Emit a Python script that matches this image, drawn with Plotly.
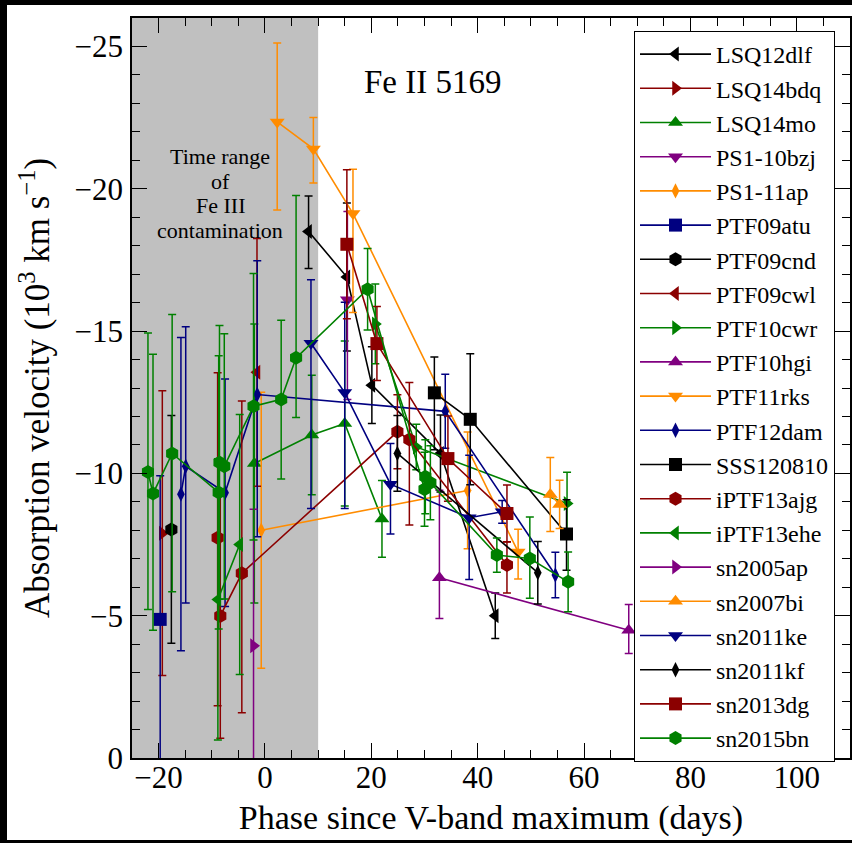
import plotly.graph_objects as go

# ---------------- data (phase in days, velocity in 10^3 km/s) ----------------
names = ["LSQ12dlf", "LSQ14bdq", "LSQ14mo", "PS1-10bzj", "PS1-11ap", "PTF09atu",
         "PTF09cnd", "PTF09cwl", "PTF10cwr", "PTF10hgi", "PTF11rks", "PTF12dam",
         "SSS120810", "iPTF13ajg", "iPTF13ehe", "sn2005ap", "sn2007bi", "sn2011ke",
         "sn2011kf", "sn2013dg", "sn2015bn"]

LSQ12dlf_phase = [8.2, 15.4, 20.1, 33.0, 43.3]
LSQ12dlf_vel = [-18.5, -16.9, -13.1, -10.7, -5.0]
LSQ12dlf_err_up = [1.25, 2.6, 1.35, 1.35, 0.8]
LSQ12dlf_err_dn = [1.3, 2.6, 1.35, 1.35, 0.8]

LSQ14bdq_phase = [-19.3]
LSQ14bdq_vel = [-7.9]
LSQ14bdq_err_up = [5.0]
LSQ14bdq_err_dn = [5.0]

LSQ14mo_phase = [-2.0, 8.8, 15.0, 22.0]
LSQ14mo_vel = [-10.35, -11.35, -11.75, -8.4]
LSQ14mo_err_up = [4.9, 2.1, 2.9, 1.35]
LSQ14mo_err_dn = [4.9, 2.1, 2.9, 1.35]

PS1_10bzj_phase = [15.5]
PS1_10bzj_vel = [-16.1]
PS1_10bzj_err_up = [3.1]
PS1_10bzj_err_dn = [3.5]

PS1_11ap_phase = [-0.7, 38.1]
PS1_11ap_vel = [-8.0, -9.4]
PS1_11ap_err_up = [4.85, 2.05]
PS1_11ap_err_dn = [4.85, 2.05]

PTF09atu_phase = [-19.7]
PTF09atu_vel = [-4.87]
PTF09atu_err_up = [5.05]
PTF09atu_err_dn = [5.05]

PTF09cnd_phase = [-17.6]
PTF09cnd_vel = [-8.03]
PTF09cnd_err_up = [4.0]
PTF09cnd_err_dn = [4.0]

PTF09cwl_phase = [-1.5]
PTF09cwl_vel = [-13.55]
PTF09cwl_err_up = [4.7]
PTF09cwl_err_dn = [4.0]

PTF10cwr_phase = [20.75, 28.45, 56.8]
PTF10cwr_vel = [-15.25, -10.93, -8.94]
PTF10cwr_err_up = [1.4, 0.8, 1.1]
PTF10cwr_err_dn = [1.4, 0.8, 1.1]

PTF10hgi_phase = [32.8, 68.4]
PTF10hgi_vel = [-6.33, -4.49]
PTF10hgi_err_up = [3.08, 0.9]
PTF10hgi_err_dn = [1.43, 0.82]

PTF11rks_phase = [2.3, 9.1, 16.55, 47.6]
PTF11rks_vel = [-22.35, -21.4, -19.13, -7.24]
PTF11rks_err_up = [2.77, 1.1, 1.56, 0.8]
PTF11rks_err_dn = [3.1, 1.2, 3.48, 0.95]

PTF12dam_phase = [-15.8, -14.9, -7.5, -1.45, 33.9, 54.6]
PTF12dam_vel = [-9.27, -10.25, -9.32, -12.77, -12.18, -6.43]
PTF12dam_err_up = [5.5, 4.9, 4.0, 4.7, 1.3, 0.8]
PTF12dam_err_dn = [5.5, 4.8, 4.0, 5.0, 1.3, 0.8]

SSS120810_phase = [31.85, 38.6, 56.7]
SSS120810_vel = [-12.83, -11.9, -7.87]
SSS120810_err_up = [1.26, 2.3, 1.2]
SSS120810_err_dn = [2.0, 2.3, 1.27]

iPTF13ajg_phase = [-8.9, -8.4, -4.35, 24.9, 27.15, 45.5]
iPTF13ajg_vel = [-7.74, -4.99, -6.49, -11.46, -11.19, -6.78]
iPTF13ajg_err_up = [5.8, 4.3, 6.05, 1.3, 2.0, 0.82]
iPTF13ajg_err_dn = [5.9, 4.3, 4.9, 1.3, 3.0, 0.98]

iPTF13ehe_phase = [-8.85, -4.75]
iPTF13ehe_vel = [-5.57, -7.5]
iPTF13ehe_err_up = [4.94, 4.57]
iPTF13ehe_err_dn = [4.94, 4.57]

sn2005ap_phase = [-2.15]
sn2005ap_vel = [-3.94]
sn2005ap_err_up = [4.8]
sn2005ap_err_dn = [4.8]

sn2007bi_phase = [53.65, 55.4]
sn2007bi_vel = [-9.26, -8.91]
sn2007bi_err_up = [1.3, 0.85]
sn2007bi_err_dn = [1.3, 0.85]

sn2011ke_phase = [8.65, 15.0, 23.6, 38.4, 44.6]
sn2011ke_vel = [-14.57, -12.84, -9.62, -8.44, -8.65]
sn2011ke_err_up = [2.23, 3.17, 1.43, 2.2, 0.4]
sn2011ke_err_dn = [5.8, 4.07, 1.75, 2.17, 0.4]

sn2011kf_phase = [24.9, 51.3]
sn2011kf_vel = [-10.7, -6.51]
sn2011kf_err_up = [1.33, 1.1]
sn2011kf_err_dn = [1.33, 1.1]

sn2013dg_phase = [15.4, 21.05, 34.4, 45.5]
sn2013dg_vel = [-18.05, -14.56, -10.52, -8.59]
sn2013dg_err_up = [2.62, 1.3, 1.5, 1.0]
sn2013dg_err_dn = [2.62, 1.3, 1.5, 1.0]

sn2015bn_phase = [-22.0, -21.05, -17.45, -8.7, -8.55, -7.65, -2.15, 3.05, 5.85,
                  19.3, 30.0, 30.15, 31.1, 43.6, 49.8, 57.0]
sn2015bn_vel = [-10.05, -9.29, -10.7, -9.33, -10.38, -10.25, -12.36, -12.6, -14.06,
                -16.47, -9.44, -9.88, -9.67, -7.13, -7.01, -6.19]
sn2015bn_err_up = [4.88, 4.9, 4.88, 4.8, 4.82, 4.66, 4.66, 2.78, 5.7,
                   1.43, 1.3, 1.3, 1.3, 0.6, 1.46, 1.05]
sn2015bn_err_dn = [4.83, 4.8, 4.86, 4.8, 4.8, 4.66, 4.7, 2.8, 2.1,
                   1.43, 1.3, 1.3, 1.3, 0.6, 1.4, 1.05]

contamination_range = [-25, 10]   # phase range shaded grey
contamination_label = ["Time range", "of", "Fe III", "contamination"]

# ---------------- styles ----------------
STYLE = {
    "LSQ12dlf": ("black", "triangle-left"),
    "LSQ14bdq": ("#8b0000", "triangle-right"),
    "LSQ14mo": ("#008000", "triangle-up"),
    "PS1-10bzj": ("#800080", "triangle-down"),
    "PS1-11ap": ("#ff8c00", "diamond-tall"),
    "PTF09atu": ("#000080", "square"),
    "PTF09cnd": ("black", "hexagon"),
    "PTF09cwl": ("#8b0000", "triangle-left"),
    "PTF10cwr": ("#008000", "triangle-right"),
    "PTF10hgi": ("#800080", "triangle-up"),
    "PTF11rks": ("#ff8c00", "triangle-down"),
    "PTF12dam": ("#000080", "diamond-tall"),
    "SSS120810": ("black", "square"),
    "iPTF13ajg": ("#8b0000", "hexagon"),
    "iPTF13ehe": ("#008000", "triangle-left"),
    "sn2005ap": ("#800080", "triangle-right"),
    "sn2007bi": ("#ff8c00", "triangle-up"),
    "sn2011ke": ("#000080", "triangle-down"),
    "sn2011kf": ("black", "diamond-tall"),
    "sn2013dg": ("#8b0000", "square"),
    "sn2015bn": ("#008000", "hexagon"),
}
SIZE = {"triangle-left": 13, "triangle-right": 13, "triangle-up": 13, "triangle-down": 13,
        "diamond-tall": 11, "square": 13, "hexagon": 14}

g = globals()
FONT = "Liberation Serif"

fig = go.Figure()
for name in names:
    key = name.replace("-", "_")
    color, sym = STYLE[name]
    fig.add_trace(go.Scatter(
        x=g[key + "_phase"], y=g[key + "_vel"], name=name,
        mode="lines+markers",
        line=dict(color=color, width=1.6),
        marker=dict(color=color, symbol=sym, size=SIZE[sym], line=dict(width=0)),
        error_y=dict(type="data", symmetric=False,
                     array=g[key + "_err_dn"], arrayminus=g[key + "_err_up"],
                     color=color, thickness=1.5, width=4),
    ))

W, H = 852, 843
L, R, T, B = 132, 2, 18, 85
pw, ph = W - L - R, H - T - B

def px2paper_x(px):
    return (px - L) / pw

def px2paper_y(py):
    return (H - B - py) / ph

shapes = [
    dict(type="rect", xref="paper", yref="paper",
         x0=px2paper_x(7), x1=px2paper_x(W + 5), y0=px2paper_y(840), y1=px2paper_y(5),
         fillcolor="white", line=dict(width=0), layer="below"),
    dict(type="rect", xref="x", yref="paper",
         x0=contamination_range[0], x1=contamination_range[1], y0=0, y1=1,
         fillcolor="#c0c0c0", line=dict(width=0), layer="below"),
]

annotations = [
    dict(x=31.5, y=px2paper_y(82), xref="x", yref="paper", xanchor="center", yanchor="middle",
         text="Fe II 5169", showarrow=False,
         font=dict(family=FONT, size=33, color="black")),
]
for i, txt in enumerate(contamination_label):
    annotations.append(dict(x=-8.4, y=px2paper_y(157 + 24.5 * i), xref="x", yref="paper",
                            xanchor="center", yanchor="middle", text=txt,
                            showarrow=False, font=dict(family=FONT, size=22, color="black")))

axis_common = dict(
    ticks="inside", ticklen=15, tickwidth=1, tickcolor="black",
    showline=True, linewidth=1.5, linecolor="black", mirror="ticks",
    showgrid=False, zeroline=False,
    tickfont=dict(family=FONT, size=31, color="black"),
    minor=dict(ticks="inside", ticklen=8, tickwidth=1, tickcolor="black", showgrid=False),
)

fig.update_layout(
    width=W, height=H,
    margin=dict(l=L, r=R, t=T, b=B, autoexpand=False),
    paper_bgcolor="black", plot_bgcolor="white",
    font=dict(family=FONT, color="black"),
    shapes=shapes, annotations=annotations,
    xaxis=dict(range=[-25, 110], tick0=0, dtick=20, **axis_common,
               title=dict(text="Phase since V-band maximum (days)",
                          font=dict(family=FONT, size=34, color="black"), standoff=11),
               ticklabelstandoff=-9),
    yaxis=dict(range=[0, -26], tick0=0, dtick=5, **axis_common,
               title=dict(text="Absorption velocity (10<sup>3</sup> km s<sup>−1</sup>)",
                          font=dict(family=FONT, size=35, color="black"), standoff=14),
               ticklabelstandoff=1),
    legend=dict(x=px2paper_x(634), y=px2paper_y(31), xanchor="left", yanchor="top",
                bgcolor="white", bordercolor="black", borderwidth=1,
                font=dict(family=FONT, size=24, color="black"),
                itemwidth=71, tracegroupgap=0),
    showlegend=True,
)
fig.update_xaxes(minor_dtick=5)
fig.update_yaxes(minor_dtick=1)

fig.write_html("out.html")
